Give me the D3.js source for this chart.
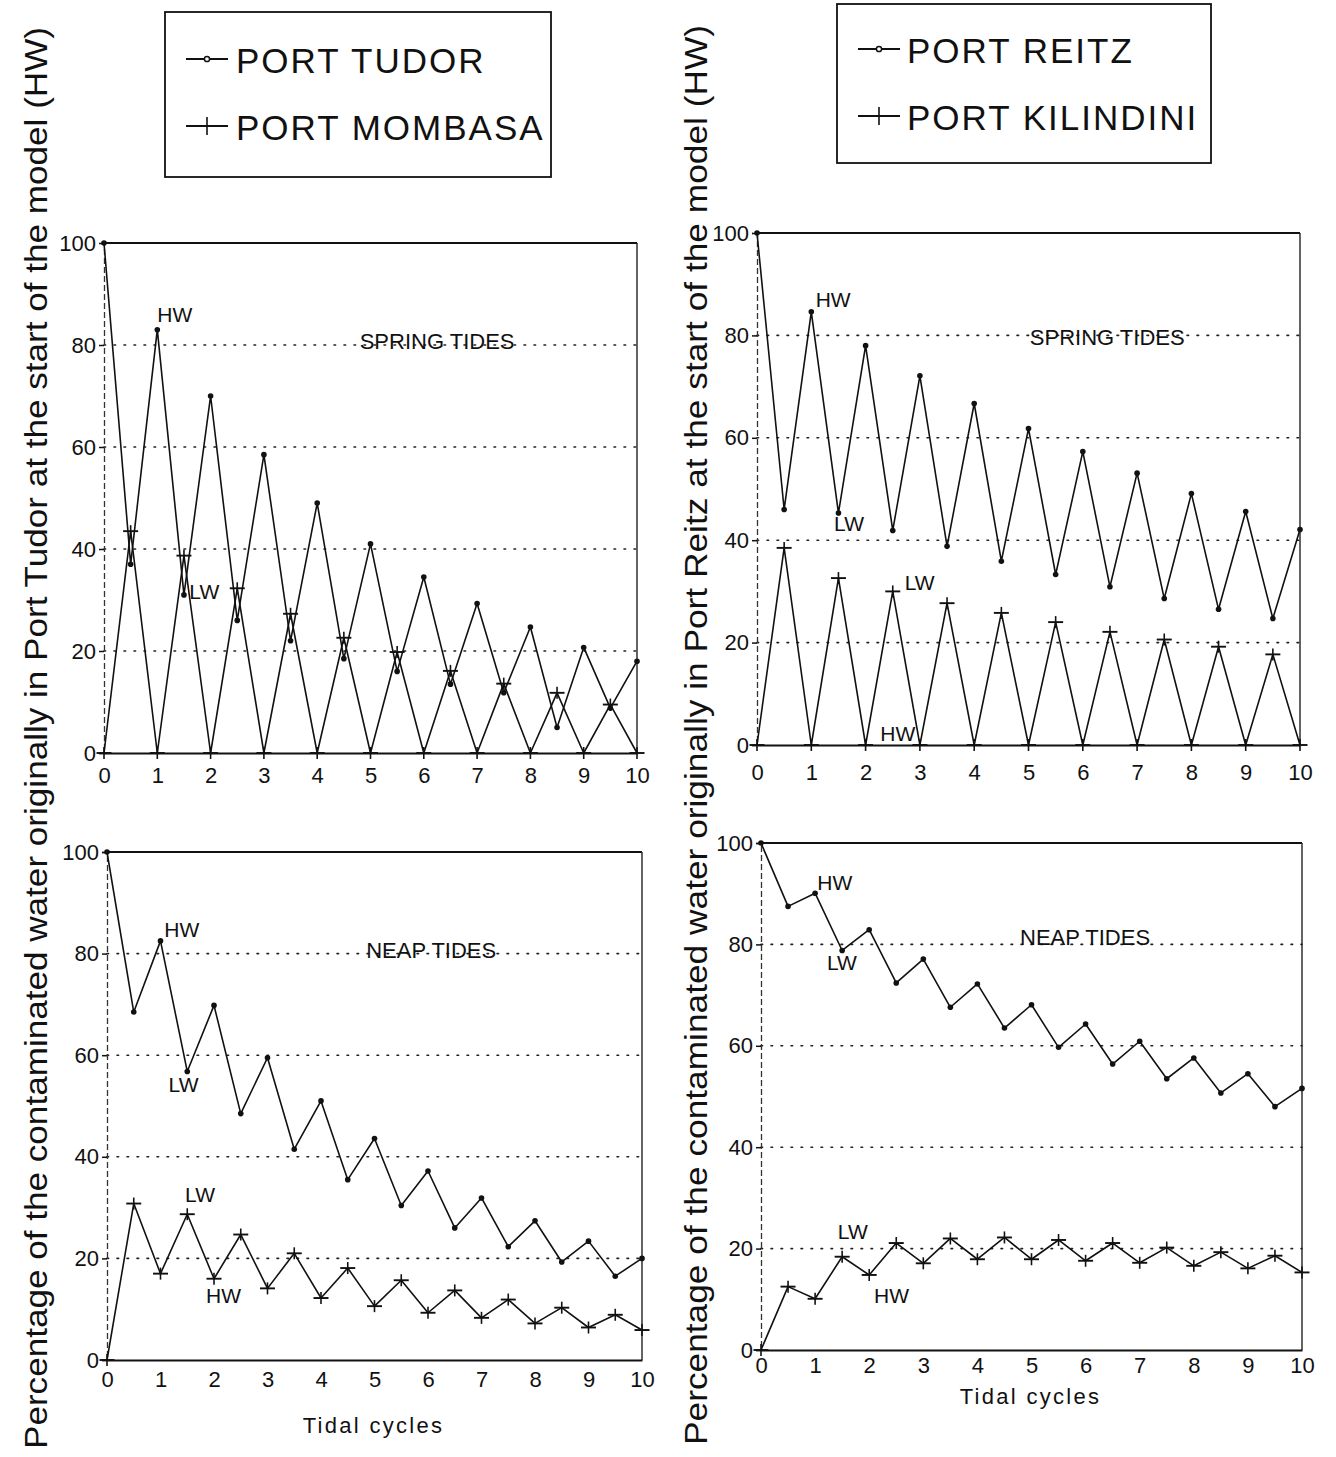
<!DOCTYPE html>
<html>
<head>
<meta charset="utf-8">
<script src="https://cdn.jsdelivr.net/npm/d3@7/dist/d3.min.js"></script>
<style>
  html, body { margin: 0; padding: 0; background: #fff; }
  svg { display: block; }
  text { font-family: "Liberation Sans", Arial, Helvetica, sans-serif; fill: #111; }
</style>
</head>
<body>
<svg id="chart" width="1336" height="1457"></svg>
<script>
// ---------------- DATA ----------------
const tidalCycles = [0,0.5,1,1.5,2,2.5,3,3.5,4,4.5,5,5.5,6,6.5,7,7.5,8,8.5,9,9.5,10];
const xTicks = [0,1,2,3,4,5,6,7,8,9,10];
const yTicks = [0,20,40,60,80,100];
const gridValues = [20,40,60,80];

// Spring tides
const tudorSpring     = [100,37,83,31,70,26,58.5,22,49,18.5,41,16,34.5,13.5,29.3,11.8,24.7,5,20.7,8.8,18];
const mombasaSpring   = [0,43.5,0,38.7,0,32.3,0,27.3,0,22.6,0,19.8,0,16.1,0,13.6,0,11.8,0,9.5,0];
const reitzSpring     = [100,46,84.6,45.3,78,41.9,72.1,38.8,66.7,35.9,61.8,33.3,57.3,30.9,53.1,28.6,49.1,26.5,45.6,24.7,42.1];
const kilindiniSpring = [0,38.5,0,32.6,0,30,0,27.7,0,25.8,0,24,0,22.1,0,20.6,0,19.2,0,17.7,0];

// Neap tides
const tudorNeap     = [100,68.5,82.5,56.8,69.8,48.5,59.5,41.5,51,35.5,43.6,30.4,37.2,26,31.9,22.3,27.4,19.3,23.4,16.5,20];
const mombasaNeap   = [0,30.8,17,28.7,16,24.7,14.1,21,12.2,18.1,10.6,15.7,9.3,13.7,8.3,11.9,7.2,10.3,6.4,8.9,5.9];
const reitzNeap     = [100,87.5,90.1,78.8,82.9,72.4,77.1,67.6,72.2,63.5,68.1,59.7,64.3,56.4,60.9,53.5,57.6,50.7,54.5,48,51.6];
const kilindiniNeap = [0,12.5,10.1,18.4,14.8,21.1,17.1,22,17.9,22.2,17.9,21.7,17.6,21.1,17.2,20.2,16.6,19.3,16.1,18.6,15.3];

const legendLeft  = ["PORT TUDOR", "PORT MOMBASA"];
const legendRight = ["PORT REITZ", "PORT KILINDINI"];
const xTitle = "Tidal cycles";
const yTitleLeft  = "Percentage of the contaminated water originally in Port Tudor at the start of the model (HW)";
const yTitleRight = "Percentage of the contaminated water originally in Port Reitz at the start of the model (HW)";

// annotations: [text, x (cycles), y (%)]
const notesTL = [["HW",1.0,86],["LW",1.6,31.6]];
const notesTR = [["HW",1.08,87],["LW",1.42,43.2],["LW",2.72,31.8],["HW",2.27,2.3]];
const notesBL = [["HW",1.07,84.8],["LW",1.15,54.3],["LW",1.46,32.5],["HW",1.85,12.6]];
const notesBR = [["HW",1.04,92.3],["LW",1.22,76.5],["LW",1.42,23.3],["HW",2.09,10.8]];
const tideLabels = ["SPRING TIDES", "NEAP TIDES"];

// ---------------- LAYOUT ----------------
const svg = d3.select("#chart");

const panels = [
  {L:104, R:637, T:243, B:753, dot:tudorSpring, plus:mombasaSpring, notes:notesTL, tide:tideLabels[0], tideX:6.25, tideY:80.6, xlab:22, title:false},
  {L:757, R:1300, T:233, B:745, dot:reitzSpring, plus:kilindiniSpring, notes:notesTR, tide:tideLabels[0], tideX:6.45, tideY:79.5, xlab:27, title:false},
  {L:107, R:642, T:852, B:1360, dot:tudorNeap, plus:mombasaNeap, notes:notesBL, tide:tideLabels[1], tideX:6.06, tideY:80.7, xlab:19, title:true, titleY:1425},
  {L:761, R:1302, T:843, B:1350, dot:reitzNeap, plus:kilindiniNeap, notes:notesBR, tide:tideLabels[1], tideX:5.99, tideY:81.3, xlab:15, title:true, titleY:1396}
];

panels.forEach(p => {
  const x = d3.scaleLinear().domain([0,10]).range([p.L, p.R]);
  const y = d3.scaleLinear().domain([0,100]).range([p.B, p.T]);
  const g = svg.append("g");

  // gridlines
  g.selectAll(".grid").data(gridValues).join("line")
    .attr("x1", p.L).attr("x2", p.R)
    .attr("y1", d => y(d)).attr("y2", d => y(d))
    .attr("stroke", "#222").attr("stroke-width", 1.6)
    .attr("stroke-dasharray", "1.6,8.4").attr("stroke-linecap", "round");

  // y axis
  const yAxis = d3.axisLeft(y).tickValues(yTicks).tickSize(5).tickPadding(3).tickFormat(d3.format("d"));
  const ya = g.append("g").attr("transform", `translate(${p.L},0)`).call(yAxis);
  ya.select(".domain").attr("stroke", "#333").attr("stroke-width", 1.3).attr("stroke-dasharray", "6,3");
  ya.selectAll(".tick line").attr("stroke", "#111").attr("stroke-width", 1.5);
  ya.selectAll(".tick text").attr("font-size", 22).attr("fill", "#111")
    .attr("font-family", '"Liberation Sans", Arial, sans-serif');

  // x axis
  const xAxis = d3.axisBottom(x).tickValues(xTicks).tickSize(0).tickPadding(p.xlab - 8).tickFormat(d3.format("d"));
  const xa = g.append("g").attr("transform", `translate(0,${p.B})`).call(xAxis);
  xa.select(".domain").attr("stroke", "#111").attr("stroke-width", 2.2);
  xa.selectAll(".tick text").attr("font-size", 22).attr("fill", "#111")
    .attr("font-family", '"Liberation Sans", Arial, sans-serif');

  // frame top and right
  g.append("line").attr("x1", p.L).attr("x2", p.R).attr("y1", p.T).attr("y2", p.T)
    .attr("stroke", "#111").attr("stroke-width", 2.2);
  g.append("line").attr("x1", p.R).attr("x2", p.R).attr("y1", p.T).attr("y2", p.B)
    .attr("stroke", "#222").attr("stroke-width", 1.4);

  const pts = arr => arr.map((v,i) => [tidalCycles[i], v]);
  const line = d3.line().x(d => x(d[0])).y(d => y(d[1]));

  // series lines
  g.append("path").attr("d", line(pts(p.plus))).attr("fill","none")
    .attr("stroke","#111").attr("stroke-width",1.6).attr("stroke-linejoin","round");
  g.append("path").attr("d", line(pts(p.dot))).attr("fill","none")
    .attr("stroke","#111").attr("stroke-width",1.6).attr("stroke-linejoin","round");

  // dot markers
  g.selectAll(".dotm").data(pts(p.dot)).join("circle")
    .attr("cx", d => x(d[0])).attr("cy", d => y(d[1])).attr("r", 2.8).attr("fill", "#111");

  // plus markers
  const pl = g.selectAll(".plusm").data(pts(p.plus)).join("g")
    .attr("transform", d => `translate(${x(d[0])},${y(d[1])})`);
  pl.append("line").attr("x1",-7.5).attr("x2",7.5).attr("y1",0).attr("y2",0).attr("stroke","#111").attr("stroke-width",1.9);
  pl.append("line").attr("x1",0).attr("x2",0).attr("y1",-6).attr("y2",6).attr("stroke","#111").attr("stroke-width",1.6);

  // annotations
  g.selectAll(".note").data(p.notes).join("text")
    .attr("x", d => x(d[1])).attr("y", d => y(d[2]))
    .attr("dominant-baseline","central").attr("font-size", 21)
    .text(d => d[0]);

  g.append("text").attr("x", x(p.tideX)).attr("y", y(p.tideY))
    .attr("text-anchor","middle").attr("dominant-baseline","central")
    .attr("font-size", 22).text(p.tide);

  if (p.title) {
    g.append("text").attr("x", (p.L + p.R)/2 - 1).attr("y", p.titleY)
      .attr("text-anchor","middle").attr("dominant-baseline","central")
      .attr("font-size", 22).attr("letter-spacing", 2.3).text(xTitle);
  }
});

// y titles
svg.append("text").attr("transform","translate(47,738) rotate(-90)")
  .attr("text-anchor","middle").attr("font-size",31)
  .attr("textLength",1422).attr("lengthAdjust","spacingAndGlyphs").text(yTitleLeft);
svg.append("text").attr("transform","translate(707,735) rotate(-90)")
  .attr("text-anchor","middle").attr("font-size",31)
  .attr("textLength",1420).attr("lengthAdjust","spacingAndGlyphs").text(yTitleRight);

// legends
function legend(box, names, lineX0, lineX1, textX, rowY) {
  const g = svg.append("g");
  g.append("rect").attr("x", box[0]).attr("y", box[1]).attr("width", box[2]).attr("height", box[3])
    .attr("fill","#fff").attr("stroke","#111").attr("stroke-width",1.8);
  const mid = (lineX0 + lineX1)/2;
  // dot entry
  g.append("line").attr("x1",lineX0).attr("x2",lineX1).attr("y1",rowY[0]-1).attr("y2",rowY[0]-1)
    .attr("stroke","#111").attr("stroke-width",1.8);
  g.append("circle").attr("cx",mid).attr("cy",rowY[0]-1).attr("r",2.6)
    .attr("fill","#fff").attr("stroke","#111").attr("stroke-width",1.5);
  // plus entry
  g.append("line").attr("x1",lineX0).attr("x2",lineX1).attr("y1",rowY[1]-1).attr("y2",rowY[1]-1)
    .attr("stroke","#111").attr("stroke-width",1.8);
  g.append("line").attr("x1",mid).attr("x2",mid).attr("y1",rowY[1]-10).attr("y2",rowY[1]+8)
    .attr("stroke","#111").attr("stroke-width",1.6);
  g.selectAll(".lt").data(names).join("text")
    .attr("x", textX).attr("y", (d,i) => rowY[i])
    .attr("dominant-baseline","central").attr("font-size",35).attr("letter-spacing",2)
    .text(d => d);
}
legend([165,12,386,165], legendLeft, 186, 228, 236, [60,127]);
legend([837,4,374,159], legendRight, 858, 900, 907, [50,117]);
</script>
</body>
</html>
